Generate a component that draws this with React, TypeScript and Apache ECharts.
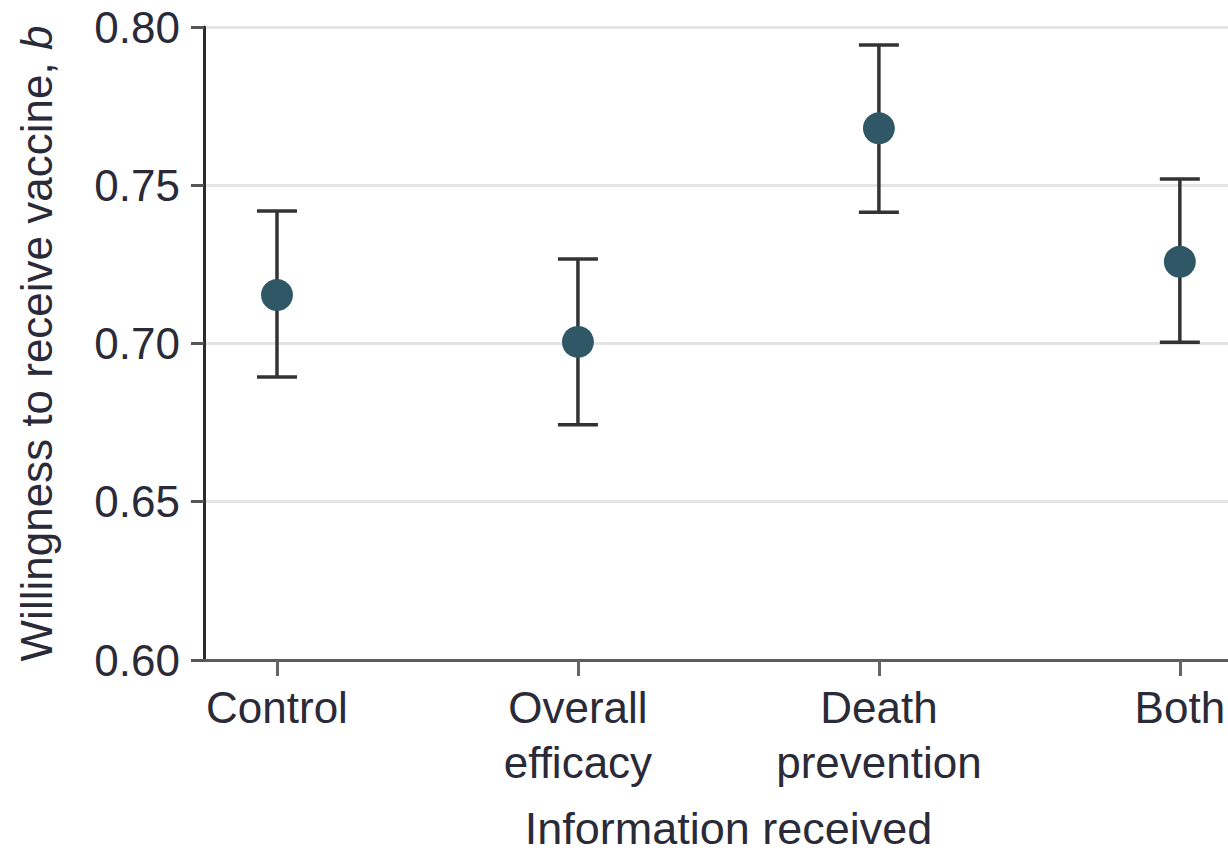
import React, { useEffect, useRef } from "react";
import * as echarts from "echarts";

const categories = ["Control", "Overall\nefficacy", "Death\nprevention", "Both"];
const estimates = [0.7153, 0.7005, 0.768, 0.7258];
const lower = [0.6894, 0.6743, 0.7415, 0.7004];
const upper = [0.7419, 0.7267, 0.7943, 0.752];
const categoryPositions = [0, 1, 2, 3];
const yTicks = [0.6, 0.65, 0.7, 0.75, 0.8];

const FONT = "Liberation Sans";
const TEXT = "#2a2a38";

export default function App() {
  const ref = useRef<HTMLDivElement>(null);
  useEffect(() => {
    if (!ref.current) return;
    const chart = echarts.init(ref.current, null, { renderer: "svg" });
    const errData = categoryPositions.map((p, i) => [p, lower[i], upper[i]]);
    const ptData = categoryPositions.map((p, i) => [p, estimates[i]]);
    chart.setOption({
      animation: false,
      backgroundColor: "#ffffff",
      textStyle: { fontFamily: FONT },
      grid: {
        left: 204,
        right: 0,
        top: 27,
        bottom: 198,
        containLabel: false,
        outerBoundsMode: "none",
      },
      xAxis: {
        type: "value",
        min: -0.2425,
        max: 3.16,
        name: "Information received",
        nameLocation: "middle",
        nameGap: 146,
        nameTextStyle: {
          fontSize: 45,
          lineHeight: 45,
          color: TEXT,
          fontFamily: FONT,
          padding: [0, 0, 0, 25],
        },
        splitLine: { show: false },
        axisLine: { show: true, onZero: false, lineStyle: { color: "#5c5c5c", width: 3 } },
        axisTick: {
          show: true,
          customValues: categoryPositions,
          length: 16,
          lineStyle: { color: "#666666", width: 3 },
        },
        axisLabel: {
          customValues: categoryPositions,
          formatter: (v: number) => categories[Math.round(v)] ?? "",
          fontSize: 44,
          lineHeight: 55,
          margin: 20,
          color: TEXT,
          fontFamily: FONT,
        },
      },
      yAxis: {
        type: "value",
        min: yTicks[0],
        max: yTicks[yTicks.length - 1],
        interval: 0.05,
        name: "Willingness to receive vaccine, {i|b}",
        nameLocation: "middle",
        nameGap: 146,
        nameTextStyle: {
          fontSize: 44,
          color: TEXT,
          fontFamily: FONT,
          rich: { i: { fontSize: 44, fontStyle: "italic", color: TEXT, fontFamily: FONT } },
        },
        axisLine: { show: true, onZero: false, lineStyle: { color: "#2b2b2b", width: 3 } },
        axisTick: { show: true, length: 13, lineStyle: { color: "#555555", width: 3 } },
        splitLine: { show: true, lineStyle: { color: "#e4e4e4", width: 3 } },
        axisLabel: {
          formatter: (v: number) => v.toFixed(2),
          fontSize: 44,
          margin: 24,
          color: TEXT,
          fontFamily: FONT,
        },
      },
      series: [
        {
          type: "custom",
          data: errData,
          encode: { x: 0, y: [1, 2] },
          z: 2,
          renderItem: (params: any, api: any) => {
            const x = api.value(0);
            const lo = api.coord([x, api.value(1)]);
            const hi = api.coord([x, api.value(2)]);
            const hw = 20;
            const style = { stroke: "#333333", lineWidth: 3.5 };
            return {
              type: "group",
              children: [
                { type: "line", shape: { x1: hi[0], y1: hi[1], x2: lo[0], y2: lo[1] }, style },
                { type: "line", shape: { x1: hi[0] - hw, y1: hi[1], x2: hi[0] + hw, y2: hi[1] }, style },
                { type: "line", shape: { x1: lo[0] - hw, y1: lo[1], x2: lo[0] + hw, y2: lo[1] }, style },
              ],
            };
          },
        },
        {
          type: "scatter",
          data: ptData,
          symbol: "circle",
          symbolSize: 32,
          z: 3,
          itemStyle: { color: "#2f5766", opacity: 1 },
        },
      ],
    });
    return () => chart.dispose();
  }, []);
  return (
    <div
      ref={ref}
      style={{ position: "fixed", left: 0, top: 0, width: 1228, height: 858, background: "#fff" }}
    />
  );
}
